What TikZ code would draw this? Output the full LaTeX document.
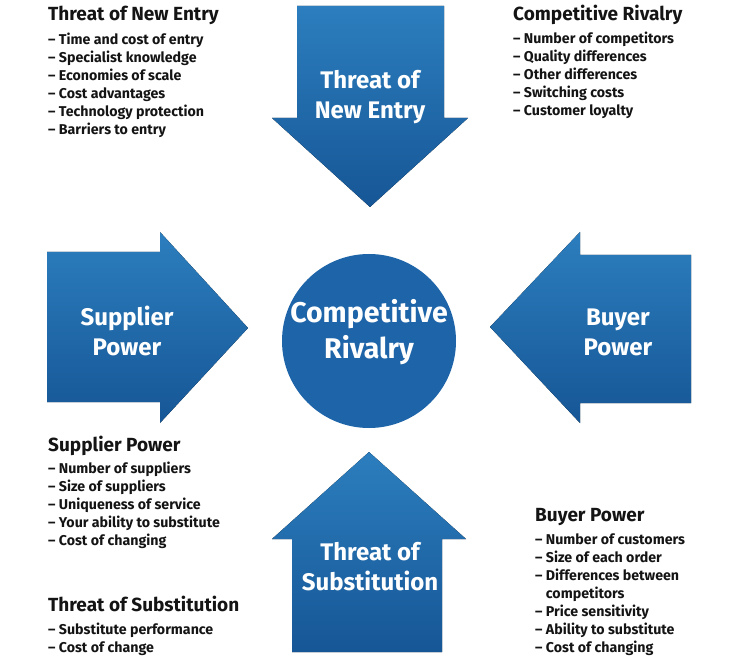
\documentclass[tikz,border=0pt]{standalone}
\usepackage{fontspec}
\setmainfont{Fira Sans}

\definecolor{forcetop}{RGB}{44,126,190}
\definecolor{forcebot}{RGB}{22,86,150}
\definecolor{hubblue}{RGB}{30,100,168}
\definecolor{listtext}{RGB}{20,20,20}

\tikzset{
  force/.style={top color=forcetop, bottom color=forcebot, draw=none},
  forcelabel/.style={text=white, align=center, inner sep=0pt,
                     font=\fontsize{24}{30}\selectfont\bfseries},
  listhead/.style={anchor=base west, inner sep=0pt, text=listtext,
                   font=\fontsize{19}{22}\selectfont\bfseries},
  listitem/.style={anchor=base west, inner sep=0pt, text=listtext,
                   font=\fontsize{14.2}{18}\selectfont\bfseries}
}

\begin{document}
\begin{tikzpicture}[x=1pt, y=-1pt]
  \useasboundingbox[fill=white] (0,0) rectangle (734,663);

  % the four forces
  \fill[force] (297,6) -- (444,6) -- (444,118) -- (468,118) -- (370,207)
    -- (272,118) -- (297,118) -- cycle;
  \fill[force] (47,252) -- (160,252) -- (160,232) -- (248,328) -- (160,423)
    -- (160,402) -- (47,402) -- cycle;
  \fill[force] (691,255) -- (580,255) -- (580,232) -- (490,327) -- (580,423)
    -- (580,403) -- (691,403) -- cycle;
  \fill[force] (292,652) -- (442,652) -- (442,539) -- (466,539) -- (369,452)
    -- (272,539) -- (292,539) -- cycle;

  \node[circle, fill=hubblue, minimum size=174pt, inner sep=0pt] (rivalry) at (369,341) {};

  \node[forcelabel] (entry) at (370,97) {Threat of\\New Entry};
  \node[forcelabel] (supplier) at (127,331) {Supplier\\Power};
  \node[forcelabel] (buyer) at (618,332) {Buyer\\Power};
  \node[forcelabel] (substitution) at (370,567) {Threat of\\Substitution};
  \node[forcelabel, font=\fontsize{28.5}{36}\selectfont\bfseries] (rivalrytext) at (369,332) {Competitive\\Rivalry};

  % lists
  \node[listhead] (nehead) at (48,21) {Threat of New Entry};
  \foreach \txt [count=\i] in {Time and cost of entry, Specialist knowledge,
      Economies of scale, Cost advantages, Technology protection, Barriers to entry}
    \node[listitem] (ne\i) at (48,27+18*\i) {-- \txt};

  \node[listhead] (crhead) at (513,21) {Competitive Rivalry};
  \foreach \txt [count=\i] in {Number of competitors, Quality differences,
      Other differences, Switching costs, Customer loyalty}
    \node[listitem] (cr\i) at (513,26+18*\i) {-- \txt};

  \node[listhead] (sphead) at (48,451) {Supplier Power};
  \foreach \txt [count=\i] in {Number of suppliers, Size of suppliers,
      Uniqueness of service, Your ability to substitute, Cost of changing}
    \node[listitem] (sp\i) at (48,455+18*\i) {-- \txt};

  \node[listhead] (tshead) at (48,611) {Threat of Substitution};
  \foreach \txt [count=\i] in {Substitute performance, Cost of change}
    \node[listitem] (ts\i) at (48,616+18*\i) {-- \txt};

  \node[listhead] (bphead) at (535,521) {Buyer Power};
  \foreach \txt/\yy [count=\i] in {Number of customers/544, Size of each order/562,
      Differences between/580, Price sensitivity/616, Ability to substitute/634,
      Cost of changing/652}
    \node[listitem] (bp\i) at (535,\yy) {-- \txt};
  \node[listitem] (bp3b) at (535,598) {\phantom{-- }competitors};
\end{tikzpicture}
\end{document}
